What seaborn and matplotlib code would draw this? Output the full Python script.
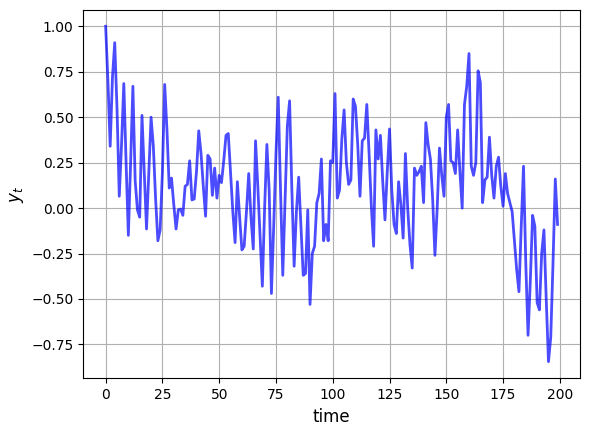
import matplotlib

matplotlib.use("Agg")
import matplotlib.pyplot as plt
import numpy as np
import pandas as pd
import seaborn as sns

# series values, t = 0..199
y_vals = [
    1.00, 0.70, 0.34, 0.72, 0.91, 0.55, 0.065, 0.35, 0.685, 0.25,
    -0.15, 0.25, 0.67, 0.15, -0.01, -0.05, 0.51, 0.20, -0.115, 0.20,
    0.50, 0.34, 0.05, -0.18, -0.12, 0.20, 0.68, 0.43, 0.11, 0.165,
    0.02, -0.115, -0.01, -0.005, -0.04, 0.12, 0.13, 0.26, 0.045, 0.05,
    0.20, 0.425, 0.30, 0.12, -0.045, 0.29, 0.27, 0.07, 0.22, 0.055,
    0.18, 0.14, 0.26, 0.40, 0.41, 0.20, -0.02, -0.19, 0.145, -0.05,
    -0.23, -0.21, -0.02, 0.19, -0.05, -0.225, 0.37, 0.12, -0.15, -0.43,
    0.00, 0.35, 0.10, -0.47, -0.10, 0.30, 0.61, 0.10, -0.37, 0.05,
    0.45, 0.59, 0.10, -0.32, -0.02, 0.17, -0.10, -0.37, -0.36, -0.01,
    -0.53, -0.25, -0.21, 0.03, 0.08, 0.27, -0.18, -0.09, -0.18, 0.26,
    0.25, 0.63, 0.055, 0.10, 0.38, 0.54, 0.25, 0.13, 0.155, 0.60,
    0.56, 0.35, 0.065, 0.37, 0.385, 0.57, 0.30, 0.01, -0.21, 0.43,
    0.27, 0.40, 0.15, -0.065, 0.20, 0.435, 0.10, -0.09, -0.14, 0.145,
    0.02, -0.165, 0.30, 0.00, -0.20, -0.33, 0.22, 0.18, 0.20, 0.23,
    0.03, 0.47, 0.35, 0.27, 0.05, -0.26, 0.00, 0.33, 0.18, 0.065,
    0.50, 0.57, 0.26, 0.25, 0.19, 0.43, 0.20, 0.00, 0.57, 0.67,
    0.85, 0.23, 0.18, 0.25, 0.755, 0.69, 0.03, 0.155, 0.17, 0.39,
    0.18, 0.055, 0.23, 0.28, 0.12, 0.01, 0.19, 0.08, 0.03, -0.02,
    -0.18, -0.34, -0.46, -0.10, 0.23, -0.30, -0.70, -0.40, -0.04, -0.10,
    -0.52, -0.56, -0.25, -0.12, -0.50, -0.845, -0.71, -0.30, 0.16, -0.09,
]
time = list(range(len(y_vals)))


def main():
    df = pd.DataFrame({"time": time, "y": y_vals})

    fig, ax = plt.subplots(figsize=(5.89, 4.33), dpi=100)
    fig.subplots_adjust(left=0.141, right=0.985, top=0.978, bottom=0.126)

    sns.lineplot(data=df, x="time", y="y", ax=ax, color="blue", alpha=0.7, lw=2)
    ax.set_xlabel("time", fontsize=12)
    ax.set_ylabel("$y_t$", fontsize=12)
    ax.grid(True)

    fig.savefig("out.png", dpi=100, facecolor="white")
    plt.close(fig)


if __name__ == "__main__":
    main()
